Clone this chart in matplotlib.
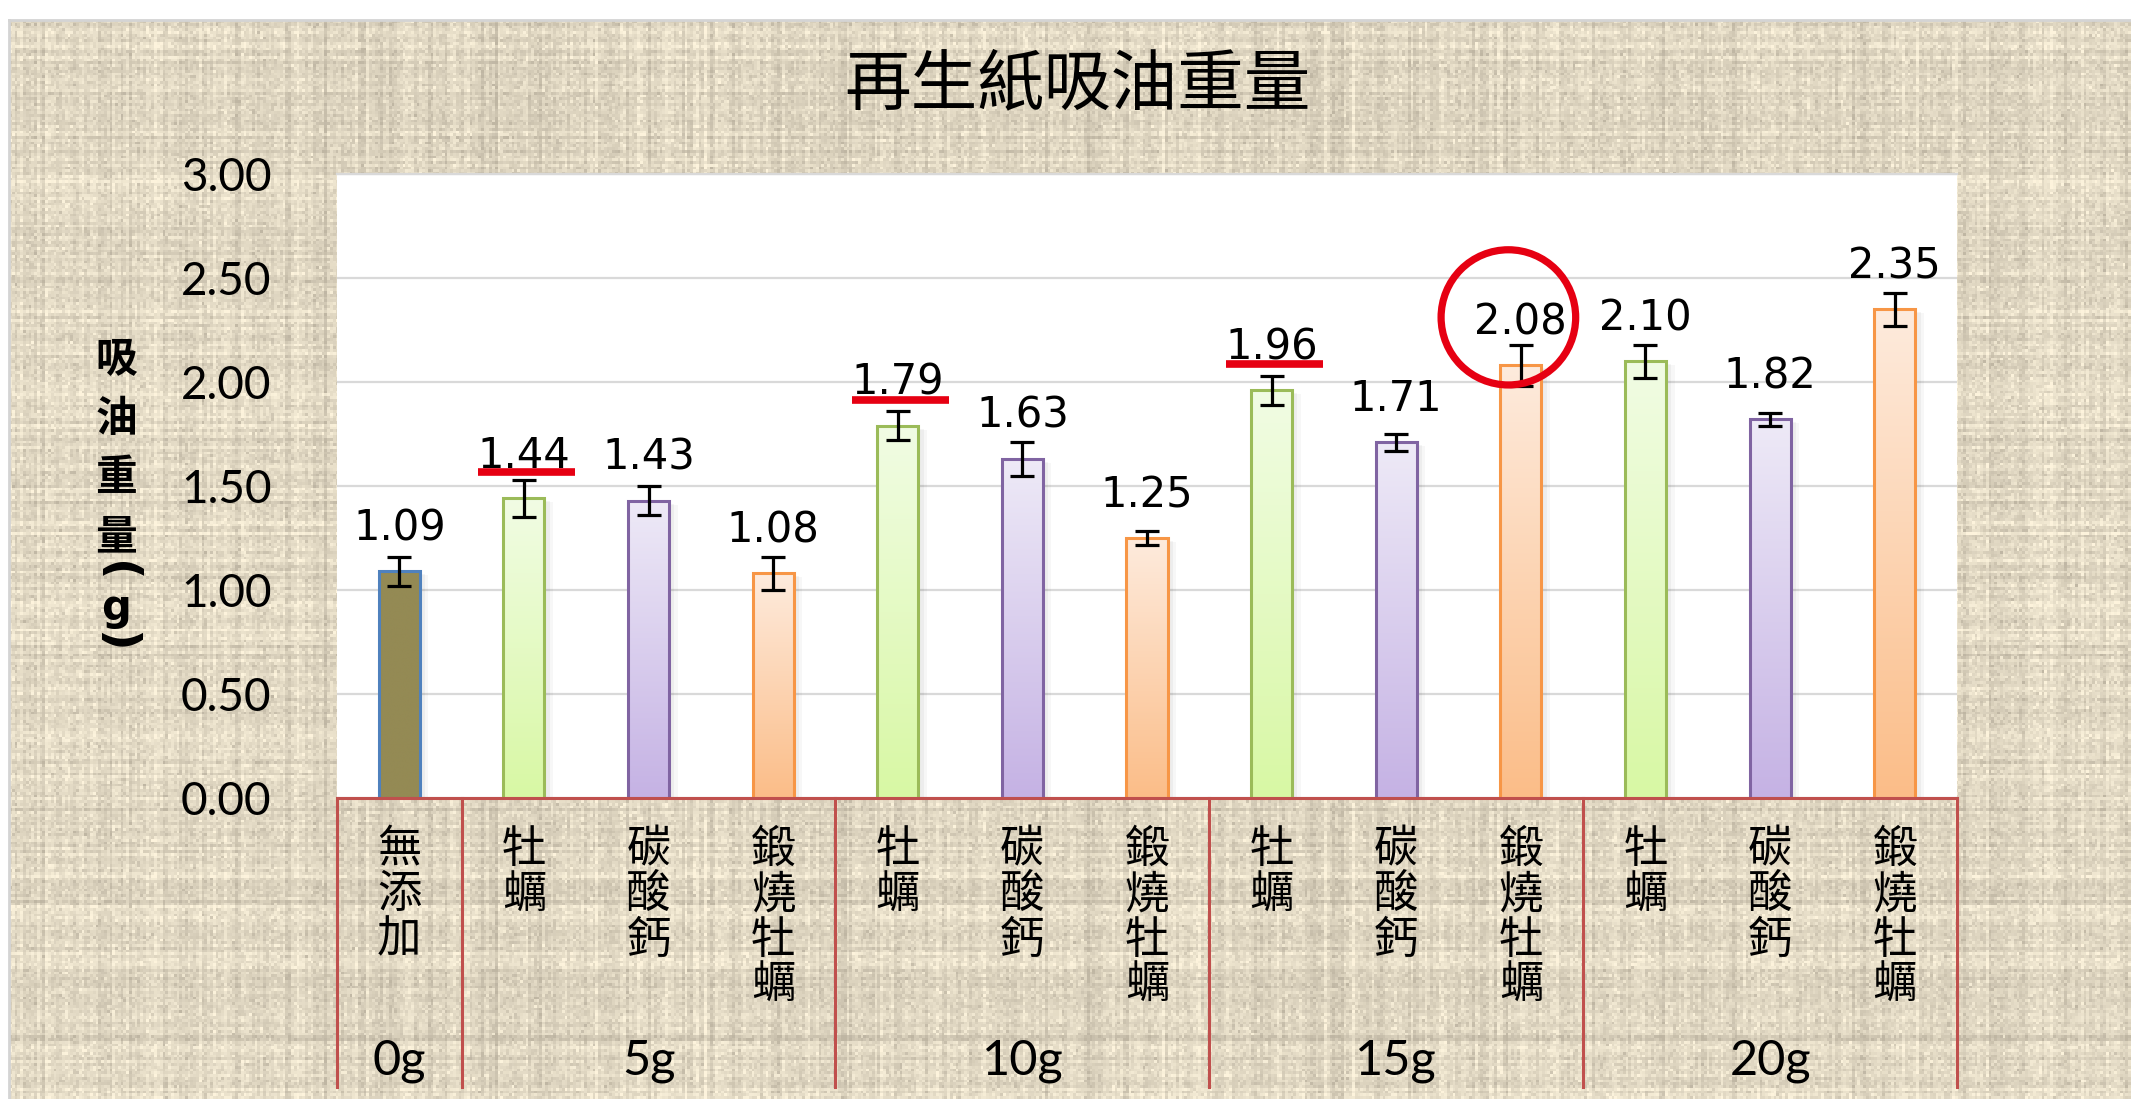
import numpy as np
import matplotlib
matplotlib.use("Agg")
import matplotlib.pyplot as plt
from matplotlib.colors import LinearSegmentedColormap
from matplotlib.patches import Ellipse
from matplotlib.transforms import offset_copy

# ---- data -------------------------------------------------------------
categories = ["無添加", "牡蠣", "碳酸鈣", "鍛燒牡蠣",
              "牡蠣", "碳酸鈣", "鍛燒牡蠣",
              "牡蠣", "碳酸鈣", "鍛燒牡蠣",
              "牡蠣", "碳酸鈣", "鍛燒牡蠣"]
values = [1.09, 1.44, 1.43, 1.08, 1.79, 1.63, 1.25, 1.96, 1.71, 2.08, 2.10, 1.82, 2.35]
errors = [0.07, 0.09, 0.07, 0.08, 0.07, 0.08, 0.035, 0.07, 0.04, 0.10, 0.08, 0.03, 0.08]
groups = ["0g", "5g", "10g", "15g", "20g"]
group_sizes = [1, 3, 3, 3, 3]
y_ticks = [0.0, 0.5, 1.0, 1.5, 2.0, 2.5, 3.0]
underlined = [1, 4, 7]
circled = 9

title = "再生紙吸油重量"
ylabel_chars = ["吸", "油", "重", "量"]
ylabel_unit = "g"

# ---- styles -------------------------------------------------------------
styles = {
    "無添加": dict(edge="#4F81BD", top="#948A54", bottom="#948A54"),
    "牡蠣": dict(edge="#9BBB59", top="#F1FCE4", bottom="#D8F8A4"),
    "碳酸鈣": dict(edge="#8064A2", top="#EEEAF7", bottom="#C5B2E4"),
    "鍛燒牡蠣": dict(edge="#F79646", top="#FEEBDD", bottom="#FBBD88"),
}
RED = "#C0504D"
MARK = "#E60012"
CJK = ["Noto Sans CJK TC", "DejaVu Sans"]

W, H, DPI = 2131, 1099, 100
fig = plt.figure(figsize=(W / DPI, H / DPI), dpi=DPI, facecolor="white")

def px(x0, y0, x1, y1):
    """figure rect from pixel box (top-left origin)"""
    return [x0 / W, 1 - y1 / H, (x1 - x0) / W, (y1 - y0) / H]

# ---- linen background -----------------------------------------------------
bg = fig.add_axes(px(9, 20, W, H), zorder=-10)
rng = np.random.default_rng(5)
th, tw = 390, 760
rows = rng.normal(0, 1, th)
cols = rng.normal(0, 1, tw)
speck = rng.normal(0, 1, (th, tw))
lum = 0.5 * rows[:, None] + 0.5 * cols[None, :] + 0.6 * speck
lum = np.clip(lum, -2.4, 2.0)
base = np.array([225, 216, 195]) / 255
amp = np.array([14, 14, 13]) / 255
tex = np.clip(base + lum[..., None] * amp, 0, 1)
bg.imshow(tex, interpolation="nearest", aspect="auto")
bg.set_xticks([]); bg.set_yticks([])
for s in ["right", "bottom"]:
    bg.spines[s].set_visible(False)
for s in ["left", "top"]:
    bg.spines[s].set_color("#D4D4D4")
    bg.spines[s].set_linewidth(2)

# ---- main axes ------------------------------------------------------------
ax = fig.add_axes(px(337, 174, 1957, 798), zorder=1)
ax.set_facecolor("white")
x = np.arange(len(values))

ax.set_yticks(y_ticks)
ax.set_yticklabels([f"{t:.2f}" for t in y_ticks], family="Lato", fontsize=33)
ax.tick_params(axis="y", length=0, pad=47)
ax.set_xticks([])
ax.yaxis.grid(True, color="#D9D9D9", lw=1.6)
ax.set_axisbelow(True)
for s in ["left", "right"]:
    ax.spines[s].set_visible(False)
ax.spines["top"].set_color("#D9D9D9")
ax.spines["top"].set_linewidth(1.6)
ax.spines["bottom"].set_color(RED)
ax.spines["bottom"].set_linewidth(2.2)
ax.spines["bottom"].set_zorder(6)

edge_cols = [styles[c]["edge"] for c in categories]
bars = ax.bar(x, values, width=0.33, facecolor="none", edgecolor=edge_cols,
              linewidth=2.2, zorder=4)

# soft drop shadow and vertical gradient fill for each bar
for bar, cat in zip(bars, categories):
    bx, bw, bh = bar.get_x(), bar.get_width(), bar.get_height()
    for k, a in enumerate([0.05, 0.04, 0.03]):
        sh = offset_copy(ax.transData, fig=fig, x=2 + 2 * k, y=-2 - k, units="dots")
        ax.fill_between([bx - 0.01 * k, bx + bw + 0.01 * k], 0, bh, color="black",
                        alpha=a, lw=0, transform=sh, zorder=2)
    st = styles[cat]
    cmap = LinearSegmentedColormap.from_list("g", [st["bottom"], st["top"]])
    grad = np.linspace(0, 1, 256)[:, None]
    ax.imshow(grad, cmap=cmap, extent=[bx, bx + bw, 0, bh], origin="lower",
              aspect="auto", zorder=3, interpolation="bicubic")
ax.set_xlim(-0.5, len(values) - 0.5)
ax.set_ylim(0, 3.0)

ax.errorbar(x, values, yerr=errors, fmt="none", ecolor="black",
            elinewidth=2.3, capsize=8.3, capthick=2.3, zorder=5)

for xi, v in zip(x, values):
    ax.annotate(f"{v:.2f}", (xi, v), xytext=(0, 22.3), textcoords="offset points",
                ha="center", va="baseline", fontsize=30, family="DejaVu Sans",
                zorder=7, annotation_clip=False)

# red highlight marks
ul = offset_copy(ax.transData, fig=fig, y=26, units="dots")
for i in underlined:
    ax.plot([i - 0.37, i + 0.41], [values[i], values[i]], color=MARK, lw=5.5,
            solid_capstyle="butt", transform=ul, clip_on=False, zorder=8)
ring_tr = offset_copy(ax.transData, fig=fig, y=48, units="dots")
ax.add_patch(Ellipse((circled - 0.1, values[circled]), width=1.08, height=0.65,
                     fill=False, edgecolor=MARK, lw=5.2, transform=ring_tr,
                     clip_on=False, zorder=8))

# category labels (stacked vertically) and group rows
xt = ax.get_xaxis_transform()
for xi, cat in zip(x, categories):
    ax.text(xi, -0.045, "\n".join(cat), transform=xt, ha="center", va="top",
            fontsize=32, family=CJK, fontweight="light", linespacing=0.98)

start = 0
bounds = [-0.5]
for g, n in zip(groups, group_sizes):
    center = start + (n - 1) / 2
    ax.text(center, -0.421, g, transform=xt, ha="center", va="center",
            fontsize=35, family="Lato")
    start += n
    bounds.append(start - 0.5)
for b in bounds:
    ax.plot([b, b], [0, -0.463], transform=xt, color=RED, lw=2.2,
            clip_on=False, zorder=6)

# title and y label
fig.text(1078 / W, 1 - 86 / H, title, ha="center", va="center",
         fontsize=48, family=CJK)
ylab_y = [360, 419, 478, 537]
for ch, yy in zip(ylabel_chars, ylab_y):
    fig.text(116 / W, 1 - yy / H, ch, ha="center", va="center", fontsize=30,
             family=CJK, fontweight="bold")
fig.text(116 / W, 1 - 572 / H, "(", ha="center", va="center", fontsize=34,
         family="DejaVu Sans", fontweight="bold", rotation=-90)
fig.text(116 / W, 1 - 608 / H, ylabel_unit, ha="center", va="center", fontsize=30,
         family="DejaVu Sans", fontweight="bold")
fig.text(116 / W, 1 - 642 / H, ")", ha="center", va="center", fontsize=34,
         family="DejaVu Sans", fontweight="bold", rotation=-90)

fig.savefig("out.png", dpi=DPI, facecolor="white")
